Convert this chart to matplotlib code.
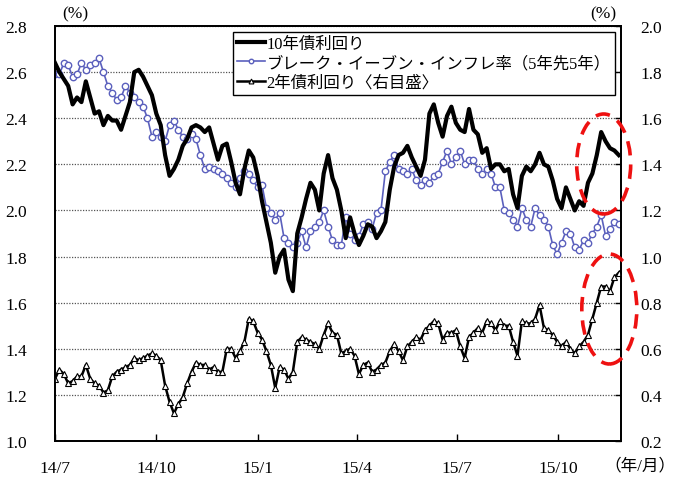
import numpy as np
import pandas as pd
import matplotlib
matplotlib.use("Agg")
import matplotlib.pyplot as plt
from matplotlib.patches import Ellipse

# ---------------- data ----------------
dates = pd.date_range("2014-07-01", periods=129, freq="4D")

jgb10 = [2.64, 2.60, 2.57, 2.54, 2.46, 2.49, 2.47, 2.56, 2.49, 2.42,
         2.43, 2.37, 2.41, 2.39, 2.39, 2.35, 2.41, 2.47, 2.60, 2.61,
         2.58, 2.54, 2.50, 2.42, 2.37, 2.24, 2.15, 2.18, 2.22, 2.28,
         2.31, 2.36, 2.37, 2.36, 2.34, 2.36, 2.29, 2.22, 2.28, 2.29,
         2.21, 2.12, 2.07, 2.18, 2.26, 2.23, 2.15, 2.04, 1.95, 1.86,
         1.73, 1.80, 1.83, 1.70, 1.65, 1.90, 1.97, 2.05, 2.12, 2.09,
         2.00, 2.16, 2.24, 2.14, 2.09, 2.00, 1.88, 1.97, 1.90, 1.85,
         1.89, 1.94, 1.93, 1.88, 1.91, 1.95, 2.09, 2.19, 2.24, 2.25,
         2.28, 2.23, 2.19, 2.15, 2.22, 2.42, 2.46, 2.38, 2.32, 2.41,
         2.45, 2.38, 2.35, 2.34, 2.44, 2.35, 2.33, 2.25, 2.27, 2.18,
         2.20, 2.20, 2.17, 2.18, 2.07, 2.01, 2.15, 2.19, 2.17, 2.20,
         2.25, 2.20, 2.19, 2.13, 2.05, 2.01, 2.10, 2.05, 2.00, 2.04,
         2.02, 2.12, 2.16, 2.24, 2.34, 2.30, 2.27, 2.26, 2.24]

bei5y5y = [2.59, 2.59, 2.64, 2.63, 2.58, 2.59, 2.64, 2.61, 2.63, 2.64,
           2.66, 2.60, 2.54, 2.51, 2.48, 2.49, 2.54, 2.51, 2.49, 2.47,
           2.45, 2.40, 2.32, 2.34, 2.32, 2.30, 2.37, 2.39, 2.35, 2.32,
           2.31, 2.33, 2.31, 2.24, 2.18, 2.19, 2.18, 2.17, 2.16, 2.14,
           2.12, 2.10, 2.14, 2.17, 2.16, 2.13, 2.10, 2.11, 2.01, 1.99,
           1.96, 1.99, 1.88, 1.86, 1.84, 1.86, 1.91, 1.84, 1.91, 1.93,
           1.95, 2.00, 1.93, 1.87, 1.85, 1.85, 1.97, 1.90, 1.87, 1.89,
           1.94, 1.95, 1.92, 1.99, 2.00, 2.17, 2.21, 2.24, 2.18, 2.17,
           2.16, 2.18, 2.13, 2.11, 2.13, 2.12, 2.15, 2.16, 2.21, 2.26,
           2.20, 2.23, 2.26, 2.20, 2.22, 2.22, 2.18, 2.16, 2.18, 2.16,
           2.10, 2.10, 2.00, 1.99, 1.96, 1.93, 2.01, 1.96, 1.93, 2.01,
           1.98, 1.96, 1.93, 1.85, 1.81, 1.86, 1.91, 1.90, 1.84, 1.83,
           1.87, 1.86, 1.90, 1.93, 1.98, 1.89, 1.92, 1.95, 1.94]

jgb2 = [0.47, 0.51, 0.49, 0.45, 0.46, 0.48, 0.48, 0.53, 0.47, 0.45,
        0.44, 0.41, 0.42, 0.48, 0.50, 0.51, 0.52, 0.53, 0.56, 0.55,
        0.56, 0.57, 0.58, 0.57, 0.55, 0.44, 0.37, 0.32, 0.36, 0.39,
        0.45, 0.50, 0.54, 0.53, 0.53, 0.51, 0.52, 0.50, 0.50, 0.60,
        0.60, 0.56, 0.59, 0.63, 0.73, 0.72, 0.67, 0.64, 0.59, 0.53,
        0.43, 0.52, 0.51, 0.47, 0.50, 0.63, 0.65, 0.64, 0.63, 0.62,
        0.60, 0.66, 0.71, 0.67, 0.66, 0.58, 0.59, 0.60, 0.57, 0.49,
        0.53, 0.54, 0.50, 0.51, 0.53, 0.54, 0.59, 0.62, 0.59, 0.55,
        0.61, 0.63, 0.65, 0.64, 0.68, 0.70, 0.72, 0.71, 0.64, 0.67,
        0.67, 0.68, 0.61, 0.56, 0.65, 0.67, 0.69, 0.67, 0.72, 0.71,
        0.68, 0.72, 0.70, 0.70, 0.63, 0.57, 0.72, 0.71, 0.71, 0.73,
        0.79, 0.69, 0.68, 0.66, 0.63, 0.61, 0.63, 0.60, 0.58, 0.61,
        0.63, 0.66, 0.73, 0.80, 0.87, 0.87, 0.85, 0.91, 0.93]

tick_dates = ["2014-07-01", "2014-10-01", "2015-01-01",
              "2015-04-01", "2015-07-01", "2015-10-01"]
tick_labels = ["14/7", "14/10", "15/1", "15/4", "15/7", "15/10"]

labels = ["10年債利回り",
          "ブレーク・イーブン・インフレ率（5年先5年）",
          "2年債利回り〈右目盛〉"]

# ---------------- style ----------------
serif_cjk = ["Liberation Serif", "Noto Sans CJK JP"]
plt.rcParams["font.family"] = serif_cjk
plt.rcParams["font.size"] = 12.5
blue = "#5b60bd"

fig = plt.figure(figsize=(6.78, 4.85), dpi=100)
ax = fig.add_axes([55 / 678, 1 - 442 / 485, 566 / 678, 415 / 485])
ax2 = ax.twinx()

l1, = ax.plot(dates, jgb10, color="black", lw=3.0, zorder=3)
l2, = ax.plot(dates, bei5y5y, color=blue, lw=1.2, marker="o", ms=4.6,
              mfc="white", mec=blue, mew=1.0, zorder=2)
l3, = ax2.plot(dates, jgb2, color="black", lw=1.8, marker="^", ms=5.0,
               mfc="white", mec="black", mew=0.8, zorder=2)

ax.set_ylim(1.0, 2.8)
ax.set_yticks(np.arange(1.0, 2.81, 0.2))
ax.set_yticklabels([f"{v:.1f}" for v in np.arange(1.0, 2.81, 0.2)])
ax2.set_ylim(0.2, 2.0)
ax2.set_yticks(np.arange(0.2, 2.01, 0.2))
ax2.set_yticklabels([f"{v:.1f}" for v in np.arange(0.2, 2.01, 0.2)])

ax.set_xlim(pd.Timestamp("2014-07-01"), pd.Timestamp("2015-11-27"))
ax.set_xticks(pd.to_datetime(tick_dates))
ax.set_xticklabels(tick_labels)

ax.grid(axis="y", linestyle=(0, (1, 1.2)), color="#555555", lw=0.9)
ax.set_axisbelow(True)

ax.tick_params(axis="x", direction="in", length=5, pad=14, width=1)
ax.tick_params(axis="y", direction="in", length=0, pad=20)
ax2.tick_params(axis="y", direction="in", length=4, pad=14, width=1)
for sp in list(ax.spines.values()) + list(ax2.spines.values()):
    sp.set_linewidth(1.3)
    sp.set_color("black")

fig.text(75 / 678, 1 - 14 / 485, "(%)", ha="center", va="center", fontsize=12.5)
fig.text(603 / 678, 1 - 14 / 485, "(%)", ha="center", va="center", fontsize=12.5)
fig.text(640 / 678, 1 - 466 / 485, "（年/月）", ha="center", va="center",
         fontsize=12)

leg = ax2.legend([l1, l2, l3], labels, loc="upper right",
                 bbox_to_anchor=(0.989, 0.986), borderaxespad=0,
                 fancybox=False, framealpha=1, edgecolor="black",
                 handlelength=1.7, handletextpad=0.1, labelspacing=0.2,
                 borderpad=0.25, fontsize=11.8, markerscale=0.7)
leg.get_frame().set_linewidth(1.0)

for (cx, cy, w, h) in [(603.7, 165, 54, 100), (609.3, 310, 55, 110)]:
    e = Ellipse((cx / 678, 1 - cy / 485), w / 678, h / 485,
                transform=fig.transFigure, fill=False, edgecolor="#ee1111",
                lw=2.6, linestyle=(0, (4, 2.5)), clip_on=False, zorder=10)
    fig.add_artist(e)

fig.savefig("out.png", dpi=100)
